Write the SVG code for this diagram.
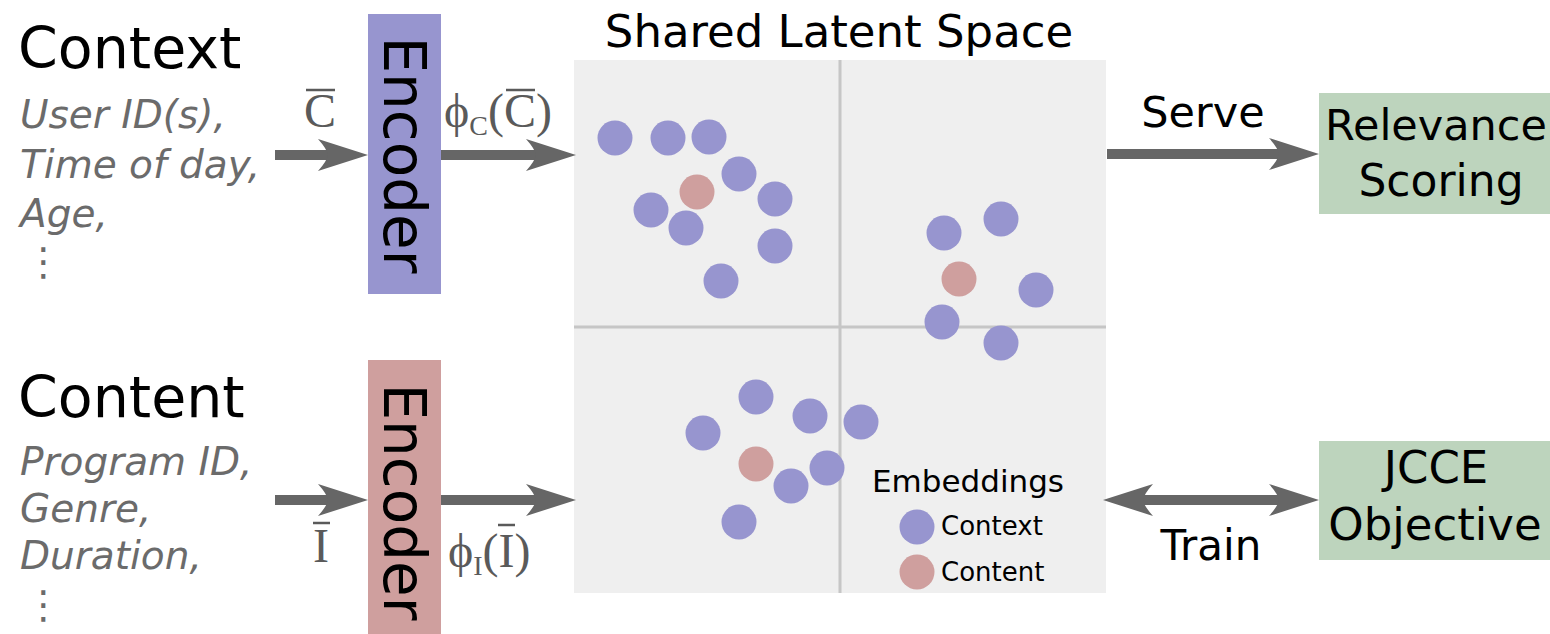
<svg xmlns="http://www.w3.org/2000/svg" width="1550" height="634" viewBox="0 0 1550 634">
  <style>
    .sans { font-family: "DejaVu Sans", Verdana, sans-serif; fill: #000; }
    .attr { font-family: "DejaVu Sans", Verdana, sans-serif; font-style: italic; font-size: 39px; fill: #6b6b6b; }
    .head { font-size: 57px; }
    .math { font-family: "Liberation Serif", "Times New Roman", serif; font-size: 48px; fill: #5a5a5a; }
    .sub { font-size: 28px; }
    .bar { stroke: #5a5a5a; stroke-width: 2.5; }
    .enc { font-family: "DejaVu Sans", Verdana, sans-serif; font-size: 58px; fill: #000; }
    .ctx { fill: #9795cf; }
    .cnt { fill: #cf9f9e; }
    .flow { stroke: #666; stroke-width: 10; fill: none; }
    .axis { stroke: #c6c6c6; stroke-width: 3; }
    .box { fill: #bdd4bd; }
  </style>
  <defs>
    <marker id="arrow" markerUnits="userSpaceOnUse" viewBox="-52 -18 54 36" refX="-40" refY="0" markerWidth="54" markerHeight="36" orient="auto-start-reverse">
      <path d="M0,0 L-50,-16 Q-41,-6 -40,0 Q-41,6 -50,16 Z" fill="#666"/>
    </marker>
  </defs>

  <rect width="1550" height="634" fill="#fff"/>

  <!-- context inputs -->
  <g id="context-input">
    <text class="sans head" x="18" y="68">Context</text>
    <text class="attr" x="20" y="128">User ID(s),</text>
    <text class="attr" x="20" y="178">Time of day,</text>
    <text class="attr" x="20" y="227">Age,</text>
    <text class="attr" x="24" y="275">⋮</text>
  </g>

  <!-- content inputs -->
  <g id="content-input">
    <text class="sans head" x="18" y="417">Content</text>
    <text class="attr" x="20" y="475">Program ID,</text>
    <text class="attr" x="20" y="522">Genre,</text>
    <text class="attr" x="20" y="569">Duration,</text>
    <text class="attr" x="24" y="618">⋮</text>
  </g>

  <!-- encoders -->
  <g id="context-encoder">
    <rect x="368" y="14" width="73" height="280" class="ctx"/>
    <text class="enc" text-anchor="middle" transform="translate(384,155) rotate(90)">Encoder</text>
  </g>
  <g id="content-encoder">
    <rect x="368" y="360" width="73" height="274" class="cnt"/>
    <text class="enc" text-anchor="middle" transform="translate(384,502) rotate(90)">Encoder</text>
  </g>

  <!-- shared latent space -->
  <g id="latent-space">
    <text class="sans" x="839" y="47" font-size="45" text-anchor="middle">Shared Latent Space</text>
    <rect x="574" y="60" width="532" height="533" fill="#efefef"/>
    <line class="axis" x1="840" y1="60" x2="840" y2="593"/>
    <line class="axis" x1="574" y1="327" x2="1106" y2="327"/>
    <g id="cluster-a">
      <circle class="ctx" cx="615" cy="138" r="17.5"/>
      <circle class="ctx" cx="668" cy="138" r="17.5"/>
      <circle class="ctx" cx="709" cy="137" r="17.5"/>
      <circle class="ctx" cx="739" cy="174" r="17.5"/>
      <circle class="ctx" cx="775" cy="199" r="17.5"/>
      <circle class="ctx" cx="651" cy="210" r="17.5"/>
      <circle class="ctx" cx="686" cy="228" r="17.5"/>
      <circle class="ctx" cx="775" cy="246" r="17.5"/>
      <circle class="ctx" cx="721" cy="281" r="17.5"/>
      <circle class="cnt" cx="697" cy="192" r="17.5"/>
    </g>
    <g id="cluster-b">
      <circle class="ctx" cx="944" cy="233" r="17.5"/>
      <circle class="ctx" cx="1001" cy="219" r="17.5"/>
      <circle class="ctx" cx="1036" cy="290" r="17.5"/>
      <circle class="ctx" cx="942" cy="322" r="17.5"/>
      <circle class="ctx" cx="1001" cy="343" r="17.5"/>
      <circle class="cnt" cx="959" cy="279" r="17.5"/>
    </g>
    <g id="cluster-c">
      <circle class="ctx" cx="756" cy="397" r="17.5"/>
      <circle class="ctx" cx="703" cy="433" r="17.5"/>
      <circle class="ctx" cx="810" cy="416" r="17.5"/>
      <circle class="ctx" cx="861" cy="422" r="17.5"/>
      <circle class="ctx" cx="827" cy="468" r="17.5"/>
      <circle class="ctx" cx="791" cy="486" r="17.5"/>
      <circle class="ctx" cx="739" cy="522" r="17.5"/>
      <circle class="cnt" cx="756" cy="464" r="17.5"/>
    </g>
    <g id="legend">
      <text class="sans" x="872" y="492" font-size="31">Embeddings</text>
      <circle class="ctx" cx="917" cy="527" r="17.5"/>
      <text class="sans" x="941" y="535" font-size="26">Context</text>
      <circle class="cnt" cx="917" cy="572" r="17.5"/>
      <text class="sans" x="941" y="581" font-size="26">Content</text>
    </g>
  </g>

  <!-- output nodes -->
  <g id="relevance-scoring">
    <rect x="1319" y="93" width="245" height="121" class="box"/>
    <text class="sans" x="1436" y="140" font-size="43" text-anchor="middle">Relevance</text>
    <text class="sans" x="1441" y="196" font-size="44" text-anchor="middle">Scoring</text>
  </g>
  <g id="jcce-objective">
    <rect x="1319" y="441" width="245" height="119" class="box"/>
    <text class="sans" x="1436" y="483" font-size="45" text-anchor="middle">JCCE</text>
    <text class="sans" x="1435" y="540" font-size="45" text-anchor="middle">Objective</text>
  </g>

  <!-- connectors -->
  <g id="connectors">
    <line class="flow" x1="275" y1="155" x2="328" y2="155" marker-end="url(#arrow)"/>
    <line class="flow" x1="441" y1="155" x2="536" y2="155" marker-end="url(#arrow)"/>
    <line class="flow" x1="275" y1="500" x2="328" y2="500" marker-end="url(#arrow)"/>
    <line class="flow" x1="441" y1="500" x2="536" y2="500" marker-end="url(#arrow)"/>
    <line class="flow" x1="1107" y1="154" x2="1279" y2="154" marker-end="url(#arrow)"/>
    <line class="flow" x1="1143" y1="500" x2="1279" y2="500" marker-start="url(#arrow)" marker-end="url(#arrow)"/>

    <!-- connector labels -->
    <text class="math" x="304" y="127">C</text>
    <line class="bar" x1="306" y1="90" x2="335" y2="90"/>
    <text class="math" x="444" y="127">ϕ<tspan class="sub" dy="8">C</tspan><tspan dy="-8">(C)</tspan></text>
    <line class="bar" x1="506" y1="90" x2="535" y2="90"/>

    <text class="math" x="313" y="562">I</text>
    <line class="bar" x1="313" y1="523" x2="330" y2="523"/>
    <text class="math" x="448" y="567">ϕ<tspan class="sub" dy="8">I</tspan><tspan dy="-8">(I)</tspan></text>
    <line class="bar" x1="498" y1="525" x2="515" y2="525"/>

    <text class="sans" x="1203" y="127" font-size="43" text-anchor="middle">Serve</text>
    <text class="sans" x="1211" y="560" font-size="42" text-anchor="middle">Train</text>
  </g>
</svg>
